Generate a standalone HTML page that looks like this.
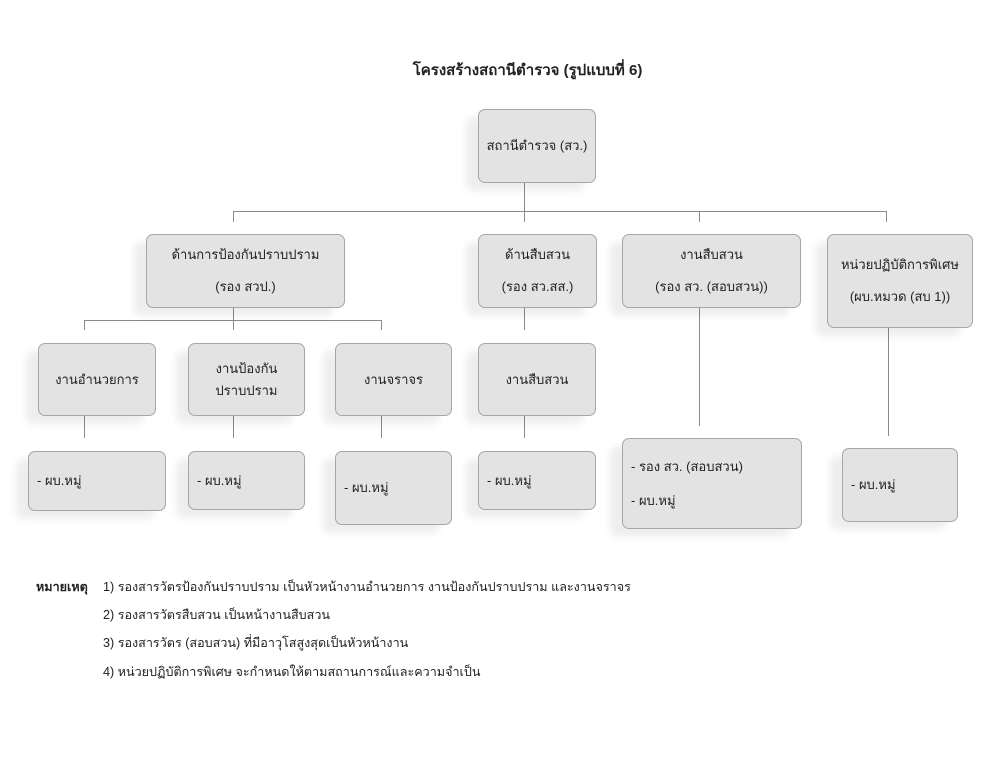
<!DOCTYPE html>
<html><head><meta charset="utf-8"><style>
body{margin:0;width:990px;height:764px;background:#fff;position:relative;font-family:"Liberation Sans","DejaVu Sans","Noto Sans CJK SC",sans-serif;color:#222;font-size:13px;overflow:hidden}
.b{position:absolute;box-sizing:border-box;background:#e3e3e3;border:1px solid #a6a6a6;border-radius:7px;box-shadow:-12px 8px 8px rgba(0,0,0,0.07);display:flex;flex-direction:column;justify-content:center;align-items:center;text-align:center;line-height:18px}
.b.l{align-items:flex-start;padding-left:8px;text-align:left}
.h,.v{position:absolute;background:#8a8a8a}
.h{height:1px}.v{width:1px}
.t{position:absolute;white-space:nowrap}
.n{font-size:12.6px}
</style></head><body>
<div class="t" style="left:0;width:1055px;text-align:center;top:58px;font-weight:bold;font-size:15px">โครงสร้างสถานีตำรวจ (รูปแบบที่ 6)</div>

<div class="v" style="left:524px;top:183px;height:28px"></div>
<div class="h" style="left:233px;top:211px;width:654px"></div>
<div class="v" style="left:233px;top:211px;height:11px"></div>
<div class="v" style="left:524px;top:211px;height:11px"></div>
<div class="v" style="left:699px;top:211px;height:11px"></div>
<div class="v" style="left:886px;top:211px;height:11px"></div>
<div class="v" style="left:233px;top:308px;height:22px"></div>
<div class="h" style="left:84px;top:320px;width:298px"></div>
<div class="v" style="left:84px;top:320px;height:10px"></div>
<div class="v" style="left:381px;top:320px;height:10px"></div>
<div class="v" style="left:524px;top:308px;height:22px"></div>
<div class="v" style="left:84px;top:416px;height:22px"></div>
<div class="v" style="left:233px;top:416px;height:22px"></div>
<div class="v" style="left:381px;top:416px;height:22px"></div>
<div class="v" style="left:524px;top:416px;height:22px"></div>
<div class="v" style="left:699px;top:308px;height:118px"></div>
<div class="v" style="left:888px;top:328px;height:108px"></div>

<div class="b" style="left:478px;top:109px;width:118px;height:74px">สถานีตำรวจ (สว.)</div>

<div class="b" style="left:146px;top:234px;width:199px;height:74px;line-height:32px">ด้านการป้องกันปราบปราม<br>(รอง สวป.)</div>
<div class="b" style="left:478px;top:234px;width:119px;height:74px;line-height:32px">ด้านสืบสวน<br>(รอง สว.สส.)</div>
<div class="b" style="left:622px;top:234px;width:179px;height:74px;line-height:32px">งานสืบสวน<br>(รอง สว. (สอบสวน))</div>
<div class="b" style="left:827px;top:234px;width:146px;height:94px;line-height:32px">หน่วยปฏิบัติการพิเศษ<br>(ผบ.หมวด (สบ 1))</div>

<div class="b" style="left:38px;top:343px;width:118px;height:73px">งานอำนวยการ</div>
<div class="b" style="left:188px;top:343px;width:117px;height:73px;line-height:22px">งานป้องกัน<br>ปราบปราม</div>
<div class="b" style="left:335px;top:343px;width:117px;height:73px">งานจราจร</div>
<div class="b" style="left:478px;top:343px;width:118px;height:73px">งานสืบสวน</div>

<div class="b l" style="left:28px;top:451px;width:138px;height:60px">- ผบ.หมู่</div>
<div class="b l" style="left:188px;top:451px;width:117px;height:59px;justify-content:flex-start;padding-top:20px">- ผบ.หมู่</div>
<div class="b l" style="left:335px;top:451px;width:117px;height:74px">- ผบ.หมู่</div>
<div class="b l" style="left:478px;top:451px;width:118px;height:59px">- ผบ.หมู่</div>
<div class="b l" style="left:622px;top:438px;width:180px;height:91px;line-height:34px">- รอง สว. (สอบสวน)<br>- ผบ.หมู่</div>
<div class="b l" style="left:842px;top:448px;width:116px;height:74px">- ผบ.หมู่</div>

<div class="t n" style="left:36px;top:577px;font-weight:bold">หมายเหตุ</div>
<div class="t n" style="left:103px;top:577px">1) รองสารวัตรป้องกันปราบปราม เป็นหัวหน้างานอำนวยการ งานป้องกันปราบปราม และงานจราจร</div>
<div class="t n" style="left:103px;top:605px">2) รองสารวัตรสืบสวน เป็นหน้างานสืบสวน</div>
<div class="t n" style="left:103px;top:633px">3) รองสารวัตร (สอบสวน) ที่มีอาวุโสสูงสุดเป็นหัวหน้างาน</div>
<div class="t n" style="left:103px;top:662px">4) หน่วยปฏิบัติการพิเศษ จะกำหนดให้ตามสถานการณ์และความจำเป็น</div>
</body></html>
